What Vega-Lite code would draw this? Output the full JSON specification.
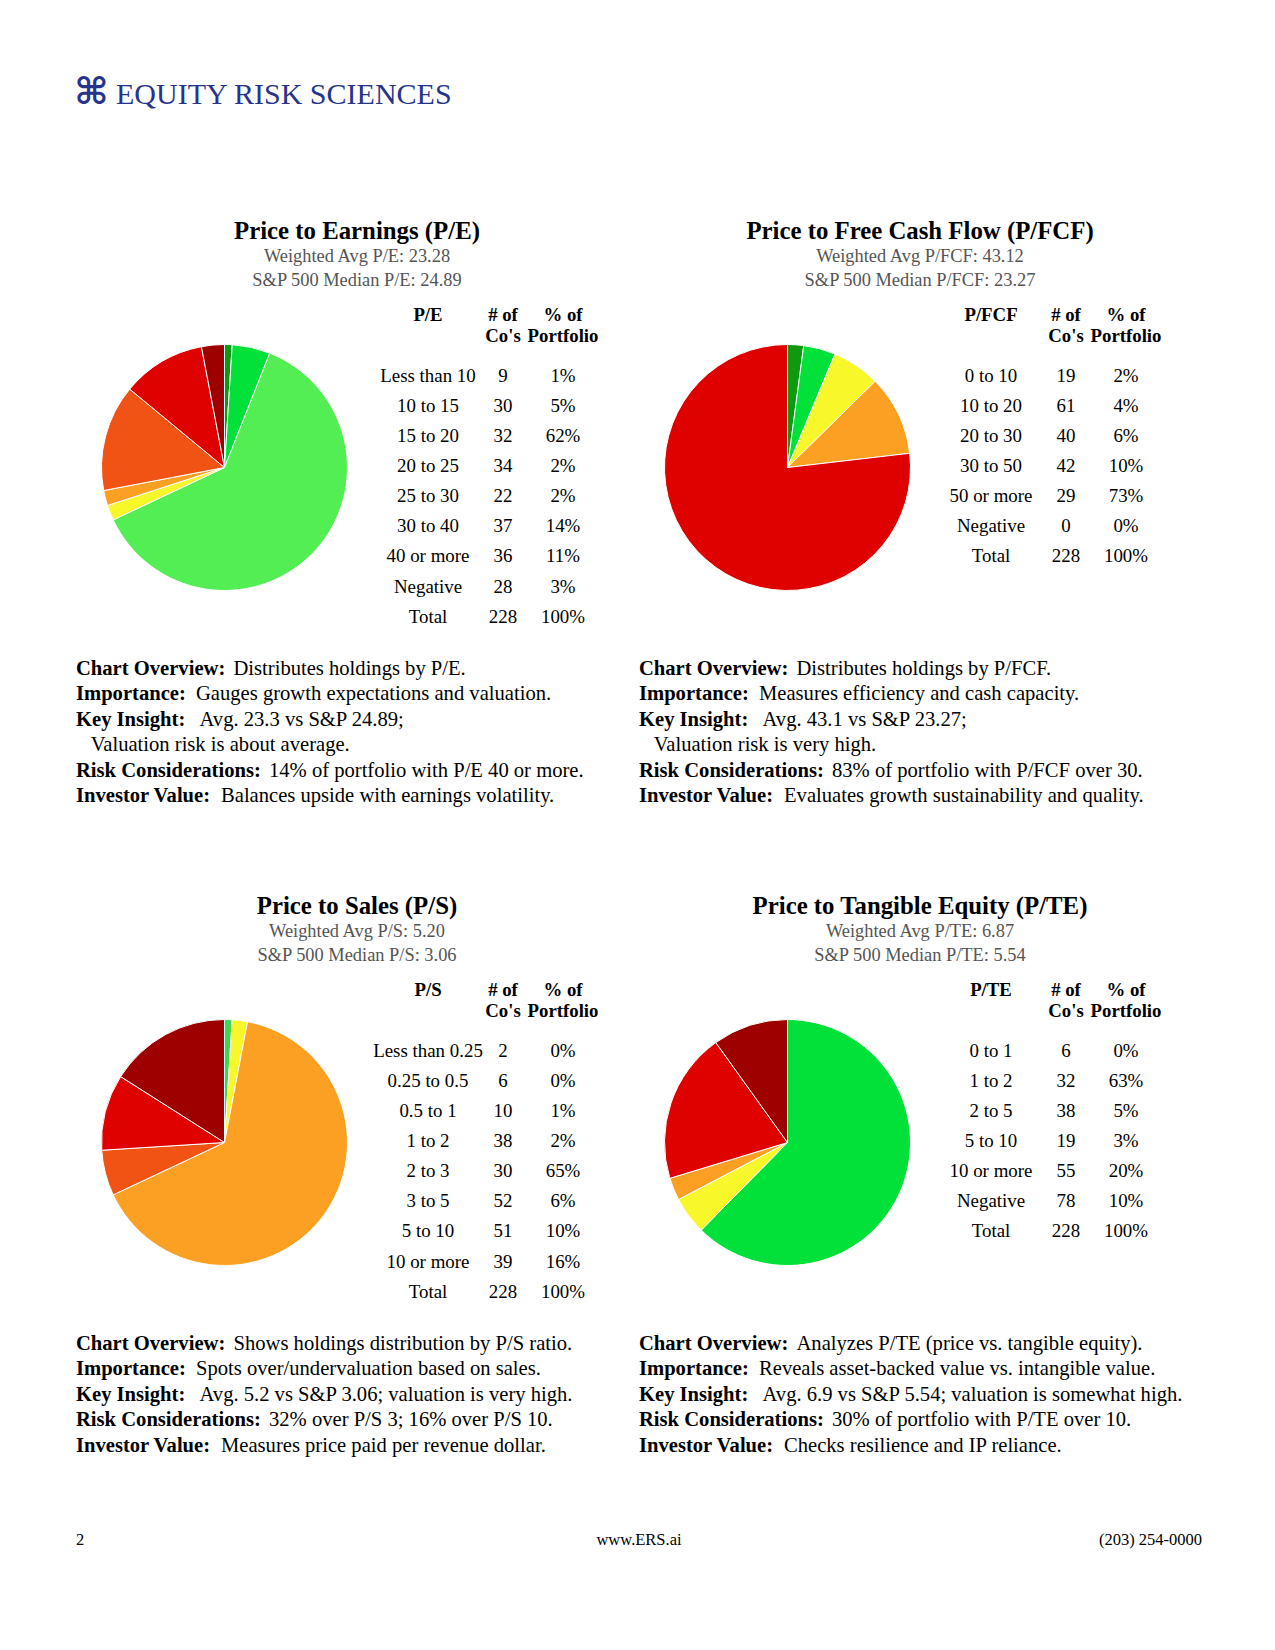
{
  "$schema": "https://vega.github.io/schema/vega-lite/v6.json",
  "background": "white",
  "padding": {"left": 74, "top": 0, "right": 0, "bottom": 0},
  "config": {"view": {"stroke": null}, "font": "Liberation Serif"},
  "datasets": {
    "page": [
      {"k": "icon", "t": "⌘"},
      {"k": "logo", "t": "EQUITY RISK SCIENCES"},
      {"k": "pg", "t": "2"},
      {"k": "web", "t": "www.ERS.ai"},
      {"k": "tel", "t": "(203) 254-0000"}
    ],
    "titles": [
      {"panel": "pe", "line": 1, "text": "Price to Earnings (P/E)"},
      {"panel": "pe", "line": 2, "text": "Weighted Avg P/E: 23.28"},
      {"panel": "pe", "line": 3, "text": "S&P 500 Median P/E: 24.89"},
      {"panel": "pfcf", "line": 1, "text": "Price to Free Cash Flow (P/FCF)"},
      {"panel": "pfcf", "line": 2, "text": "Weighted Avg P/FCF: 43.12"},
      {"panel": "pfcf", "line": 3, "text": "S&P 500 Median P/FCF: 23.27"},
      {"panel": "ps", "line": 1, "text": "Price to Sales (P/S)"},
      {"panel": "ps", "line": 2, "text": "Weighted Avg P/S: 5.20"},
      {"panel": "ps", "line": 3, "text": "S&P 500 Median P/S: 3.06"},
      {"panel": "pte", "line": 1, "text": "Price to Tangible Equity (P/TE)"},
      {"panel": "pte", "line": 2, "text": "Weighted Avg P/TE: 6.87"},
      {"panel": "pte", "line": 3, "text": "S&P 500 Median P/TE: 5.54"}
    ],
    "tables": [
      {"panel": "pe", "row": 0, "label": "P/E", "n": "# of|Co's", "pct": "% of|Portfolio"},
      {"panel": "pe", "row": 1, "label": "Less than 10", "n": 9, "pct": "1%", "w": 1},
      {"panel": "pe", "row": 2, "label": "10 to 15", "n": 30, "pct": "5%", "w": 5},
      {"panel": "pe", "row": 3, "label": "15 to 20", "n": 32, "pct": "62%", "w": 62},
      {"panel": "pe", "row": 4, "label": "20 to 25", "n": 34, "pct": "2%", "w": 2},
      {"panel": "pe", "row": 5, "label": "25 to 30", "n": 22, "pct": "2%", "w": 2},
      {"panel": "pe", "row": 6, "label": "30 to 40", "n": 37, "pct": "14%", "w": 14},
      {"panel": "pe", "row": 7, "label": "40 or more", "n": 36, "pct": "11%", "w": 11},
      {"panel": "pe", "row": 8, "label": "Negative", "n": 28, "pct": "3%", "w": 3},
      {"panel": "pe", "row": 9, "label": "Total", "n": 228, "pct": "100%"},
      {"panel": "pfcf", "row": 0, "label": "P/FCF", "n": "# of|Co's", "pct": "% of|Portfolio"},
      {"panel": "pfcf", "row": 1, "label": "0 to 10", "n": 19, "pct": "2%", "w": 2},
      {"panel": "pfcf", "row": 2, "label": "10 to 20", "n": 61, "pct": "4%", "w": 4},
      {"panel": "pfcf", "row": 3, "label": "20 to 30", "n": 40, "pct": "6%", "w": 6},
      {"panel": "pfcf", "row": 4, "label": "30 to 50", "n": 42, "pct": "10%", "w": 10},
      {"panel": "pfcf", "row": 5, "label": "50 or more", "n": 29, "pct": "73%", "w": 73},
      {"panel": "pfcf", "row": 6, "label": "Negative", "n": 0, "pct": "0%", "w": 0},
      {"panel": "pfcf", "row": 7, "label": "Total", "n": 228, "pct": "100%"},
      {"panel": "ps", "row": 0, "label": "P/S", "n": "# of|Co's", "pct": "% of|Portfolio"},
      {"panel": "ps", "row": 1, "label": "Less than 0.25", "n": 2, "pct": "0%", "w": 0},
      {"panel": "ps", "row": 2, "label": "0.25 to 0.5", "n": 6, "pct": "0%", "w": 0},
      {"panel": "ps", "row": 3, "label": "0.5 to 1", "n": 10, "pct": "1%", "w": 1},
      {"panel": "ps", "row": 4, "label": "1 to 2", "n": 38, "pct": "2%", "w": 2},
      {"panel": "ps", "row": 5, "label": "2 to 3", "n": 30, "pct": "65%", "w": 65},
      {"panel": "ps", "row": 6, "label": "3 to 5", "n": 52, "pct": "6%", "w": 6},
      {"panel": "ps", "row": 7, "label": "5 to 10", "n": 51, "pct": "10%", "w": 10},
      {"panel": "ps", "row": 8, "label": "10 or more", "n": 39, "pct": "16%", "w": 16},
      {"panel": "ps", "row": 9, "label": "Total", "n": 228, "pct": "100%"},
      {"panel": "pte", "row": 0, "label": "P/TE", "n": "# of|Co's", "pct": "% of|Portfolio"},
      {"panel": "pte", "row": 1, "label": "0 to 1", "n": 6, "pct": "0%", "w": 0},
      {"panel": "pte", "row": 2, "label": "1 to 2", "n": 32, "pct": "63%", "w": 63},
      {"panel": "pte", "row": 3, "label": "2 to 5", "n": 38, "pct": "5%", "w": 5},
      {"panel": "pte", "row": 4, "label": "5 to 10", "n": 19, "pct": "3%", "w": 3},
      {"panel": "pte", "row": 5, "label": "10 or more", "n": 55, "pct": "20%", "w": 20},
      {"panel": "pte", "row": 6, "label": "Negative", "n": 78, "pct": "10%", "w": 10},
      {"panel": "pte", "row": 7, "label": "Total", "n": 228, "pct": "100%"}
    ],
    "notes": [
      {"panel": "pe", "line": 1, "label": "Chart Overview:", "body": "Distributes holdings by P/E."},
      {"panel": "pe", "line": 2, "label": "Importance:", "body": "Gauges growth expectations and valuation."},
      {"panel": "pe", "line": 3, "label": "Key Insight:", "body": "Avg. 23.3 vs S&P 24.89;"},
      {"panel": "pe", "line": 4, "label": "", "body": "Valuation risk is about average."},
      {"panel": "pe", "line": 5, "label": "Risk Considerations:", "body": "14% of portfolio with P/E 40 or more."},
      {"panel": "pe", "line": 6, "label": "Investor Value:", "body": "Balances upside with earnings volatility."},
      {"panel": "pfcf", "line": 1, "label": "Chart Overview:", "body": "Distributes holdings by P/FCF."},
      {"panel": "pfcf", "line": 2, "label": "Importance:", "body": "Measures efficiency and cash capacity."},
      {"panel": "pfcf", "line": 3, "label": "Key Insight:", "body": "Avg. 43.1 vs S&P 23.27;"},
      {"panel": "pfcf", "line": 4, "label": "", "body": "Valuation risk is very high."},
      {"panel": "pfcf", "line": 5, "label": "Risk Considerations:", "body": "83% of portfolio with P/FCF over 30."},
      {"panel": "pfcf", "line": 6, "label": "Investor Value:", "body": "Evaluates growth sustainability and quality."},
      {"panel": "ps", "line": 1, "label": "Chart Overview:", "body": "Shows holdings distribution by P/S ratio."},
      {"panel": "ps", "line": 2, "label": "Importance:", "body": "Spots over/undervaluation based on sales."},
      {"panel": "ps", "line": 3, "label": "Key Insight:", "body": "Avg. 5.2 vs S&P 3.06; valuation is very high."},
      {"panel": "ps", "line": 4, "label": "Risk Considerations:", "body": "32% over P/S 3; 16% over P/S 10."},
      {"panel": "ps", "line": 5, "label": "Investor Value:", "body": "Measures price paid per revenue dollar."},
      {"panel": "pte", "line": 1, "label": "Chart Overview:", "body": "Analyzes P/TE (price vs. tangible equity)."},
      {"panel": "pte", "line": 2, "label": "Importance:", "body": "Reveals asset-backed value vs. intangible value."},
      {"panel": "pte", "line": 3, "label": "Key Insight:", "body": "Avg. 6.9 vs S&P 5.54; valuation is somewhat high."},
      {"panel": "pte", "line": 4, "label": "Risk Considerations:", "body": "30% of portfolio with P/TE over 10."},
      {"panel": "pte", "line": 5, "label": "Investor Value:", "body": "Checks resilience and IP reliance."}
    ]
  },
  "spacing": 0,
  "resolve": {"scale": {"color": "independent", "theta": "independent", "x": "independent", "y": "independent"}},
  "vconcat": [
    {
      "spacing": 7,
      "hconcat": [
        {"width": 31, "height": 186, "data": {"name": "page"}, "transform": [{"filter": "datum.k == 'icon'"}],
         "mark": {"type": "text", "font": "DejaVu Sans", "fontSize": 37, "fontWeight": "bold", "color": "#27348b", "align": "center", "baseline": "middle"},
         "encoding": {"text": {"field": "t", "type": "nominal"}}},
        {"width": 520, "height": 186, "data": {"name": "page"}, "transform": [{"filter": "datum.k == 'logo'"}],
         "mark": {"type": "text", "font": "Liberation Serif", "fontSize": 30, "color": "#27348b", "align": "left", "baseline": "middle", "dy": 2},
         "encoding": {"x": {"datum": 0, "type": "quantitative", "scale": {"domain": [0, 1]}, "axis": null}, "text": {"field": "t", "type": "nominal"}}}
      ]
    },
    {
      "spacing": 1,
      "resolve": {"scale": {"color": "independent", "theta": "independent", "x": "independent", "y": "independent"}},
      "hconcat": [
        {
          "spacing": 0,
          "resolve": {"scale": {"color": "independent", "theta": "independent", "x": "independent", "y": "independent"}},
          "vconcat": [
            {"width": 562, "height": 106, "data": {"name": "titles"}, "transform": [{"filter": "datum.panel == 'pe'"}],
             "encoding": {"y": {"field": "line", "type": "ordinal", "scale": {"type": "band", "domain": [1, 2, 3], "paddingInner": 0, "paddingOuter": 0.7083, "align": 1}, "axis": null}, "text": {"field": "text", "type": "nominal"}},
             "layer": [
               {"transform": [{"filter": "datum.line == 1"}], "mark": {"type": "text", "font": "Liberation Serif", "fontSize": 24.8, "fontWeight": "bold", "color": "#000000", "baseline": "middle", "align": "center"}},
               {"transform": [{"filter": "datum.line > 1"}], "mark": {"type": "text", "font": "Liberation Serif", "fontSize": 18.4, "color": "#555555", "baseline": "middle", "align": "center"}}
             ]},
            {"spacing": 0,
             "resolve": {"scale": {"color": "independent", "theta": "independent", "x": "independent", "y": "independent"}},
             "hconcat": [
              {"width": 297, "height": 351, "data": {"name": "tables"}, "transform": [{"filter": "datum.panel == 'pe' && isValid(datum.w)"}],
               "mark": {"type": "arc", "outerRadius": 123, "stroke": "white", "strokeWidth": 1},
               "encoding": {
                 "theta": {"field": "w", "type": "quantitative", "stack": true},
                 "order": {"field": "row", "type": "quantitative"},
                 "color": {"field": "label", "type": "nominal", "legend": null,
                   "scale": {"domain": ["Less than 10", "10 to 15", "15 to 20", "20 to 25", "25 to 30", "30 to 40", "40 or more", "Negative"],
                             "range": ["#0e990e", "#02e03a", "#53ee53", "#f7f72a", "#fca024", "#f05314", "#df0000", "#9e0000"]}}
               }},
              {"width": 245, "height": 339.6, "data": {"name": "tables"},
               "transform": [{"filter": "datum.panel == 'pe'"}, {"fold": ["label", "n", "pct"], "as": ["col", "val"]}],
               "encoding": {
                 "x": {"field": "col", "type": "nominal", "scale": {"type": "point", "domain": ["s1", "s2", "s3", "label", "g1", "g2", "g3", "g4", "n", "g5", "g6", "g7", "pct", "e1", "e2", "e3"], "padding": 0.6667}, "axis": null},
                 "y": {"field": "row", "type": "ordinal", "scale": {"type": "band", "domain": [0, 1, 2, 3, 4, 5, 6, 7, 8, 9], "paddingInner": 0, "paddingOuter": 0.6482, "align": 1}, "axis": null},
                 "text": {"field": "val", "type": "nominal"}
               },
               "layer": [
                 {"transform": [{"filter": "datum.row == 0"}], "mark": {"type": "text", "font": "Liberation Serif", "fontSize": 18.8, "fontWeight": "bold", "color": "#000000", "baseline": "bottom", "align": "center", "lineBreak": "|", "lineHeight": 21, "dy": -21}},
                 {"transform": [{"filter": "datum.row > 0"}], "mark": {"type": "text", "font": "Liberation Serif", "fontSize": 18.9, "color": "#000000", "baseline": "middle", "align": "center"}}
               ]}
             ]},
            {"width": 562, "height": 166, "data": {"name": "notes"}, "transform": [{"filter": "datum.panel == 'pe'"}],
             "encoding": {
               "x": {"datum": 0, "type": "quantitative", "scale": {"domain": [0, 1]}, "axis": null},
               "y": {"field": "line", "type": "ordinal", "scale": {"type": "band", "domain": [1, 2, 3, 4, 5, 6], "paddingInner": 0, "paddingOuter": 0.2539, "align": 1}, "axis": null}
             },
             "layer": [
               {"transform": [{"filter": "datum.label != ''"}], "mark": {"type": "text", "font": "Liberation Serif", "fontSize": 20.6, "fontWeight": "bold", "color": "#000000", "align": "left", "baseline": "middle"}, "encoding": {"text": {"field": "label", "type": "nominal"}}},
               {"transform": [{"filter": "datum.label == 'Chart Overview:'"}], "mark": {"type": "text", "font": "Liberation Serif", "fontSize": 20.6, "color": "#000000", "align": "left", "baseline": "middle", "dx": 157.5}, "encoding": {"text": {"field": "body", "type": "nominal"}}},
               {"transform": [{"filter": "datum.label == 'Importance:'"}], "mark": {"type": "text", "font": "Liberation Serif", "fontSize": 20.6, "color": "#000000", "align": "left", "baseline": "middle", "dx": 120}, "encoding": {"text": {"field": "body", "type": "nominal"}}},
               {"transform": [{"filter": "datum.label == 'Key Insight:'"}], "mark": {"type": "text", "font": "Liberation Serif", "fontSize": 20.6, "color": "#000000", "align": "left", "baseline": "middle", "dx": 123.5}, "encoding": {"text": {"field": "body", "type": "nominal"}}},
               {"transform": [{"filter": "datum.label == ''"}], "mark": {"type": "text", "font": "Liberation Serif", "fontSize": 20.6, "color": "#000000", "align": "left", "baseline": "middle", "dx": 14.7}, "encoding": {"text": {"field": "body", "type": "nominal"}}},
               {"transform": [{"filter": "datum.label == 'Risk Considerations:'"}], "mark": {"type": "text", "font": "Liberation Serif", "fontSize": 20.6, "color": "#000000", "align": "left", "baseline": "middle", "dx": 193}, "encoding": {"text": {"field": "body", "type": "nominal"}}},
               {"transform": [{"filter": "datum.label == 'Investor Value:'"}], "mark": {"type": "text", "font": "Liberation Serif", "fontSize": 20.6, "color": "#000000", "align": "left", "baseline": "middle", "dx": 145}, "encoding": {"text": {"field": "body", "type": "nominal"}}}
             ]}
          ]
        },
        {
          "spacing": 0,
          "resolve": {"scale": {"color": "independent", "theta": "independent", "x": "independent", "y": "independent"}},
          "vconcat": [
            {"width": 562, "height": 106, "data": {"name": "titles"}, "transform": [{"filter": "datum.panel == 'pfcf'"}],
             "encoding": {"y": {"field": "line", "type": "ordinal", "scale": {"type": "band", "domain": [1, 2, 3], "paddingInner": 0, "paddingOuter": 0.7083, "align": 1}, "axis": null}, "text": {"field": "text", "type": "nominal"}},
             "layer": [
               {"transform": [{"filter": "datum.line == 1"}], "mark": {"type": "text", "font": "Liberation Serif", "fontSize": 24.8, "fontWeight": "bold", "color": "#000000", "baseline": "middle", "align": "center"}},
               {"transform": [{"filter": "datum.line > 1"}], "mark": {"type": "text", "font": "Liberation Serif", "fontSize": 18.4, "color": "#555555", "baseline": "middle", "align": "center"}}
             ]},
            {"spacing": 0,
             "resolve": {"scale": {"color": "independent", "theta": "independent", "x": "independent", "y": "independent"}},
             "hconcat": [
              {"width": 297, "height": 351, "data": {"name": "tables"}, "transform": [{"filter": "datum.panel == 'pfcf' && isValid(datum.w)"}],
               "mark": {"type": "arc", "outerRadius": 123, "stroke": "white", "strokeWidth": 1},
               "encoding": {
                 "theta": {"field": "w", "type": "quantitative", "stack": true},
                 "order": {"field": "row", "type": "quantitative"},
                 "color": {"field": "label", "type": "nominal", "legend": null,
                   "scale": {"domain": ["0 to 10", "10 to 20", "20 to 30", "30 to 50", "50 or more", "Negative"],
                             "range": ["#0e990e", "#02e03a", "#f7f72a", "#fca024", "#df0000", "#9e0000"]}}
               }},
              {"width": 245, "height": 339.6, "data": {"name": "tables"},
               "transform": [{"filter": "datum.panel == 'pfcf'"}, {"fold": ["label", "n", "pct"], "as": ["col", "val"]}],
               "encoding": {
                 "x": {"field": "col", "type": "nominal", "scale": {"type": "point", "domain": ["s1", "s2", "s3", "label", "g1", "g2", "g3", "g4", "n", "g5", "g6", "g7", "pct", "e1", "e2", "e3"], "padding": 0.6667}, "axis": null},
                 "y": {"field": "row", "type": "ordinal", "scale": {"type": "band", "domain": [0, 1, 2, 3, 4, 5, 6, 7, 8, 9], "paddingInner": 0, "paddingOuter": 0.6482, "align": 1}, "axis": null},
                 "text": {"field": "val", "type": "nominal"}
               },
               "layer": [
                 {"transform": [{"filter": "datum.row == 0"}], "mark": {"type": "text", "font": "Liberation Serif", "fontSize": 18.8, "fontWeight": "bold", "color": "#000000", "baseline": "bottom", "align": "center", "lineBreak": "|", "lineHeight": 21, "dy": -21}},
                 {"transform": [{"filter": "datum.row > 0"}], "mark": {"type": "text", "font": "Liberation Serif", "fontSize": 18.9, "color": "#000000", "baseline": "middle", "align": "center"}}
               ]}
             ]},
            {"width": 562, "height": 166, "data": {"name": "notes"}, "transform": [{"filter": "datum.panel == 'pfcf'"}],
             "encoding": {
               "x": {"datum": 0, "type": "quantitative", "scale": {"domain": [0, 1]}, "axis": null},
               "y": {"field": "line", "type": "ordinal", "scale": {"type": "band", "domain": [1, 2, 3, 4, 5, 6], "paddingInner": 0, "paddingOuter": 0.2539, "align": 1}, "axis": null}
             },
             "layer": [
               {"transform": [{"filter": "datum.label != ''"}], "mark": {"type": "text", "font": "Liberation Serif", "fontSize": 20.6, "fontWeight": "bold", "color": "#000000", "align": "left", "baseline": "middle"}, "encoding": {"text": {"field": "label", "type": "nominal"}}},
               {"transform": [{"filter": "datum.label == 'Chart Overview:'"}], "mark": {"type": "text", "font": "Liberation Serif", "fontSize": 20.6, "color": "#000000", "align": "left", "baseline": "middle", "dx": 157.5}, "encoding": {"text": {"field": "body", "type": "nominal"}}},
               {"transform": [{"filter": "datum.label == 'Importance:'"}], "mark": {"type": "text", "font": "Liberation Serif", "fontSize": 20.6, "color": "#000000", "align": "left", "baseline": "middle", "dx": 120}, "encoding": {"text": {"field": "body", "type": "nominal"}}},
               {"transform": [{"filter": "datum.label == 'Key Insight:'"}], "mark": {"type": "text", "font": "Liberation Serif", "fontSize": 20.6, "color": "#000000", "align": "left", "baseline": "middle", "dx": 123.5}, "encoding": {"text": {"field": "body", "type": "nominal"}}},
               {"transform": [{"filter": "datum.label == ''"}], "mark": {"type": "text", "font": "Liberation Serif", "fontSize": 20.6, "color": "#000000", "align": "left", "baseline": "middle", "dx": 14.7}, "encoding": {"text": {"field": "body", "type": "nominal"}}},
               {"transform": [{"filter": "datum.label == 'Risk Considerations:'"}], "mark": {"type": "text", "font": "Liberation Serif", "fontSize": 20.6, "color": "#000000", "align": "left", "baseline": "middle", "dx": 193}, "encoding": {"text": {"field": "body", "type": "nominal"}}},
               {"transform": [{"filter": "datum.label == 'Investor Value:'"}], "mark": {"type": "text", "font": "Liberation Serif", "fontSize": 20.6, "color": "#000000", "align": "left", "baseline": "middle", "dx": 145}, "encoding": {"text": {"field": "body", "type": "nominal"}}}
             ]}
          ]
        }
      ]
    },
    {
      "spacing": 1,
      "resolve": {"scale": {"color": "independent", "theta": "independent", "x": "independent", "y": "independent"}},
      "hconcat": [
        {
          "spacing": 0,
          "resolve": {"scale": {"color": "independent", "theta": "independent", "x": "independent", "y": "independent"}},
          "vconcat": [
            {"width": 562, "height": 157.6, "data": {"name": "titles"}, "transform": [{"filter": "datum.panel == 'ps'"}],
             "encoding": {"y": {"field": "line", "type": "ordinal", "scale": {"type": "band", "domain": [-3, -2, -1, 1, 2, 3], "paddingInner": 0, "paddingOuter": 0.2833, "align": 1}, "axis": null}, "text": {"field": "text", "type": "nominal"}},
             "layer": [
               {"transform": [{"filter": "datum.line == 1"}], "mark": {"type": "text", "font": "Liberation Serif", "fontSize": 24.8, "fontWeight": "bold", "color": "#000000", "baseline": "middle", "align": "center"}},
               {"transform": [{"filter": "datum.line > 1"}], "mark": {"type": "text", "font": "Liberation Serif", "fontSize": 18.4, "color": "#555555", "baseline": "middle", "align": "center"}}
             ]},
            {"spacing": 0,
             "resolve": {"scale": {"color": "independent", "theta": "independent", "x": "independent", "y": "independent"}},
             "hconcat": [
              {"width": 297, "height": 351, "data": {"name": "tables"}, "transform": [{"filter": "datum.panel == 'ps' && isValid(datum.w)"}],
               "mark": {"type": "arc", "outerRadius": 123, "stroke": "white", "strokeWidth": 1},
               "encoding": {
                 "theta": {"field": "w", "type": "quantitative", "stack": true},
                 "order": {"field": "row", "type": "quantitative"},
                 "color": {"field": "label", "type": "nominal", "legend": null,
                   "scale": {"domain": ["Less than 0.25", "0.25 to 0.5", "0.5 to 1", "1 to 2", "2 to 3", "3 to 5", "5 to 10", "10 or more"],
                             "range": ["#0e990e", "#02e03a", "#3fd64a", "#f7f72a", "#fca024", "#f05314", "#df0000", "#9e0000"]}}
               }},
              {"width": 245, "height": 339.6, "data": {"name": "tables"},
               "transform": [{"filter": "datum.panel == 'ps'"}, {"fold": ["label", "n", "pct"], "as": ["col", "val"]}],
               "encoding": {
                 "x": {"field": "col", "type": "nominal", "scale": {"type": "point", "domain": ["s1", "s2", "s3", "label", "g1", "g2", "g3", "g4", "n", "g5", "g6", "g7", "pct", "e1", "e2", "e3"], "padding": 0.6667}, "axis": null},
                 "y": {"field": "row", "type": "ordinal", "scale": {"type": "band", "domain": [0, 1, 2, 3, 4, 5, 6, 7, 8, 9], "paddingInner": 0, "paddingOuter": 0.6482, "align": 1}, "axis": null},
                 "text": {"field": "val", "type": "nominal"}
               },
               "layer": [
                 {"transform": [{"filter": "datum.row == 0"}], "mark": {"type": "text", "font": "Liberation Serif", "fontSize": 18.8, "fontWeight": "bold", "color": "#000000", "baseline": "bottom", "align": "center", "lineBreak": "|", "lineHeight": 21, "dy": -21}},
                 {"transform": [{"filter": "datum.row > 0"}], "mark": {"type": "text", "font": "Liberation Serif", "fontSize": 18.9, "color": "#000000", "baseline": "middle", "align": "center"}}
               ]}
             ]},
            {"width": 562, "height": 166, "data": {"name": "notes"}, "transform": [{"filter": "datum.panel == 'ps'"}],
             "encoding": {
               "x": {"datum": 0, "type": "quantitative", "scale": {"domain": [0, 1]}, "axis": null},
               "y": {"field": "line", "type": "ordinal", "scale": {"type": "band", "domain": [1, 2, 3, 4, 5, 6], "paddingInner": 0, "paddingOuter": 0.2539, "align": 1}, "axis": null}
             },
             "layer": [
               {"transform": [{"filter": "datum.label != ''"}], "mark": {"type": "text", "font": "Liberation Serif", "fontSize": 20.6, "fontWeight": "bold", "color": "#000000", "align": "left", "baseline": "middle"}, "encoding": {"text": {"field": "label", "type": "nominal"}}},
               {"transform": [{"filter": "datum.label == 'Chart Overview:'"}], "mark": {"type": "text", "font": "Liberation Serif", "fontSize": 20.6, "color": "#000000", "align": "left", "baseline": "middle", "dx": 157.5}, "encoding": {"text": {"field": "body", "type": "nominal"}}},
               {"transform": [{"filter": "datum.label == 'Importance:'"}], "mark": {"type": "text", "font": "Liberation Serif", "fontSize": 20.6, "color": "#000000", "align": "left", "baseline": "middle", "dx": 120}, "encoding": {"text": {"field": "body", "type": "nominal"}}},
               {"transform": [{"filter": "datum.label == 'Key Insight:'"}], "mark": {"type": "text", "font": "Liberation Serif", "fontSize": 20.6, "color": "#000000", "align": "left", "baseline": "middle", "dx": 123.5}, "encoding": {"text": {"field": "body", "type": "nominal"}}},
               {"transform": [{"filter": "datum.label == 'Risk Considerations:'"}], "mark": {"type": "text", "font": "Liberation Serif", "fontSize": 20.6, "color": "#000000", "align": "left", "baseline": "middle", "dx": 193}, "encoding": {"text": {"field": "body", "type": "nominal"}}},
               {"transform": [{"filter": "datum.label == 'Investor Value:'"}], "mark": {"type": "text", "font": "Liberation Serif", "fontSize": 20.6, "color": "#000000", "align": "left", "baseline": "middle", "dx": 145}, "encoding": {"text": {"field": "body", "type": "nominal"}}}
             ]}
          ]
        },
        {
          "spacing": 0,
          "resolve": {"scale": {"color": "independent", "theta": "independent", "x": "independent", "y": "independent"}},
          "vconcat": [
            {"width": 562, "height": 157.6, "data": {"name": "titles"}, "transform": [{"filter": "datum.panel == 'pte'"}],
             "encoding": {"y": {"field": "line", "type": "ordinal", "scale": {"type": "band", "domain": [-3, -2, -1, 1, 2, 3], "paddingInner": 0, "paddingOuter": 0.2833, "align": 1}, "axis": null}, "text": {"field": "text", "type": "nominal"}},
             "layer": [
               {"transform": [{"filter": "datum.line == 1"}], "mark": {"type": "text", "font": "Liberation Serif", "fontSize": 24.8, "fontWeight": "bold", "color": "#000000", "baseline": "middle", "align": "center"}},
               {"transform": [{"filter": "datum.line > 1"}], "mark": {"type": "text", "font": "Liberation Serif", "fontSize": 18.4, "color": "#555555", "baseline": "middle", "align": "center"}}
             ]},
            {"spacing": 0,
             "resolve": {"scale": {"color": "independent", "theta": "independent", "x": "independent", "y": "independent"}},
             "hconcat": [
              {"width": 297, "height": 351, "data": {"name": "tables"}, "transform": [{"filter": "datum.panel == 'pte' && isValid(datum.w)"}],
               "mark": {"type": "arc", "outerRadius": 123, "stroke": "white", "strokeWidth": 1},
               "encoding": {
                 "theta": {"field": "w", "type": "quantitative", "stack": true},
                 "order": {"field": "row", "type": "quantitative"},
                 "color": {"field": "label", "type": "nominal", "legend": null,
                   "scale": {"domain": ["0 to 1", "1 to 2", "2 to 5", "5 to 10", "10 or more", "Negative"],
                             "range": ["#0e990e", "#02e03a", "#f7f72a", "#fca024", "#df0000", "#9e0000"]}}
               }},
              {"width": 245, "height": 339.6, "data": {"name": "tables"},
               "transform": [{"filter": "datum.panel == 'pte'"}, {"fold": ["label", "n", "pct"], "as": ["col", "val"]}],
               "encoding": {
                 "x": {"field": "col", "type": "nominal", "scale": {"type": "point", "domain": ["s1", "s2", "s3", "label", "g1", "g2", "g3", "g4", "n", "g5", "g6", "g7", "pct", "e1", "e2", "e3"], "padding": 0.6667}, "axis": null},
                 "y": {"field": "row", "type": "ordinal", "scale": {"type": "band", "domain": [0, 1, 2, 3, 4, 5, 6, 7, 8, 9], "paddingInner": 0, "paddingOuter": 0.6482, "align": 1}, "axis": null},
                 "text": {"field": "val", "type": "nominal"}
               },
               "layer": [
                 {"transform": [{"filter": "datum.row == 0"}], "mark": {"type": "text", "font": "Liberation Serif", "fontSize": 18.8, "fontWeight": "bold", "color": "#000000", "baseline": "bottom", "align": "center", "lineBreak": "|", "lineHeight": 21, "dy": -21}},
                 {"transform": [{"filter": "datum.row > 0"}], "mark": {"type": "text", "font": "Liberation Serif", "fontSize": 18.9, "color": "#000000", "baseline": "middle", "align": "center"}}
               ]}
             ]},
            {"width": 562, "height": 166, "data": {"name": "notes"}, "transform": [{"filter": "datum.panel == 'pte'"}],
             "encoding": {
               "x": {"datum": 0, "type": "quantitative", "scale": {"domain": [0, 1]}, "axis": null},
               "y": {"field": "line", "type": "ordinal", "scale": {"type": "band", "domain": [1, 2, 3, 4, 5, 6], "paddingInner": 0, "paddingOuter": 0.2539, "align": 1}, "axis": null}
             },
             "layer": [
               {"transform": [{"filter": "datum.label != ''"}], "mark": {"type": "text", "font": "Liberation Serif", "fontSize": 20.6, "fontWeight": "bold", "color": "#000000", "align": "left", "baseline": "middle"}, "encoding": {"text": {"field": "label", "type": "nominal"}}},
               {"transform": [{"filter": "datum.label == 'Chart Overview:'"}], "mark": {"type": "text", "font": "Liberation Serif", "fontSize": 20.6, "color": "#000000", "align": "left", "baseline": "middle", "dx": 157.5}, "encoding": {"text": {"field": "body", "type": "nominal"}}},
               {"transform": [{"filter": "datum.label == 'Importance:'"}], "mark": {"type": "text", "font": "Liberation Serif", "fontSize": 20.6, "color": "#000000", "align": "left", "baseline": "middle", "dx": 120}, "encoding": {"text": {"field": "body", "type": "nominal"}}},
               {"transform": [{"filter": "datum.label == 'Key Insight:'"}], "mark": {"type": "text", "font": "Liberation Serif", "fontSize": 20.6, "color": "#000000", "align": "left", "baseline": "middle", "dx": 123.5}, "encoding": {"text": {"field": "body", "type": "nominal"}}},
               {"transform": [{"filter": "datum.label == 'Risk Considerations:'"}], "mark": {"type": "text", "font": "Liberation Serif", "fontSize": 20.6, "color": "#000000", "align": "left", "baseline": "middle", "dx": 193}, "encoding": {"text": {"field": "body", "type": "nominal"}}},
               {"transform": [{"filter": "datum.label == 'Investor Value:'"}], "mark": {"type": "text", "font": "Liberation Serif", "fontSize": 20.6, "color": "#000000", "align": "left", "baseline": "middle", "dx": 145}, "encoding": {"text": {"field": "body", "type": "nominal"}}}
             ]}
          ]
        }
      ]
    },
    {
      "width": 1126, "height": 112.8, "data": {"name": "page"},
      "encoding": {"text": {"field": "t", "type": "nominal"}},
      "layer": [
        {"transform": [{"filter": "datum.k == 'pg'"}], "mark": {"type": "text", "font": "Liberation Serif", "fontSize": 16.5, "color": "#000000", "align": "left", "baseline": "middle"},
         "encoding": {"x": {"datum": 0, "type": "quantitative", "scale": {"domain": [0, 1]}, "axis": null}}},
        {"transform": [{"filter": "datum.k == 'web'"}], "mark": {"type": "text", "font": "Liberation Serif", "fontSize": 16.5, "color": "#000000", "align": "center", "baseline": "middle"},
         "encoding": {"x": {"datum": 0.5, "type": "quantitative", "scale": {"domain": [0, 1]}, "axis": null}}},
        {"transform": [{"filter": "datum.k == 'tel'"}], "mark": {"type": "text", "font": "Liberation Serif", "fontSize": 16.5, "color": "#000000", "align": "right", "baseline": "middle"},
         "encoding": {"x": {"datum": 1, "type": "quantitative", "scale": {"domain": [0, 1]}, "axis": null}}}
      ]
    }
  ]
}
